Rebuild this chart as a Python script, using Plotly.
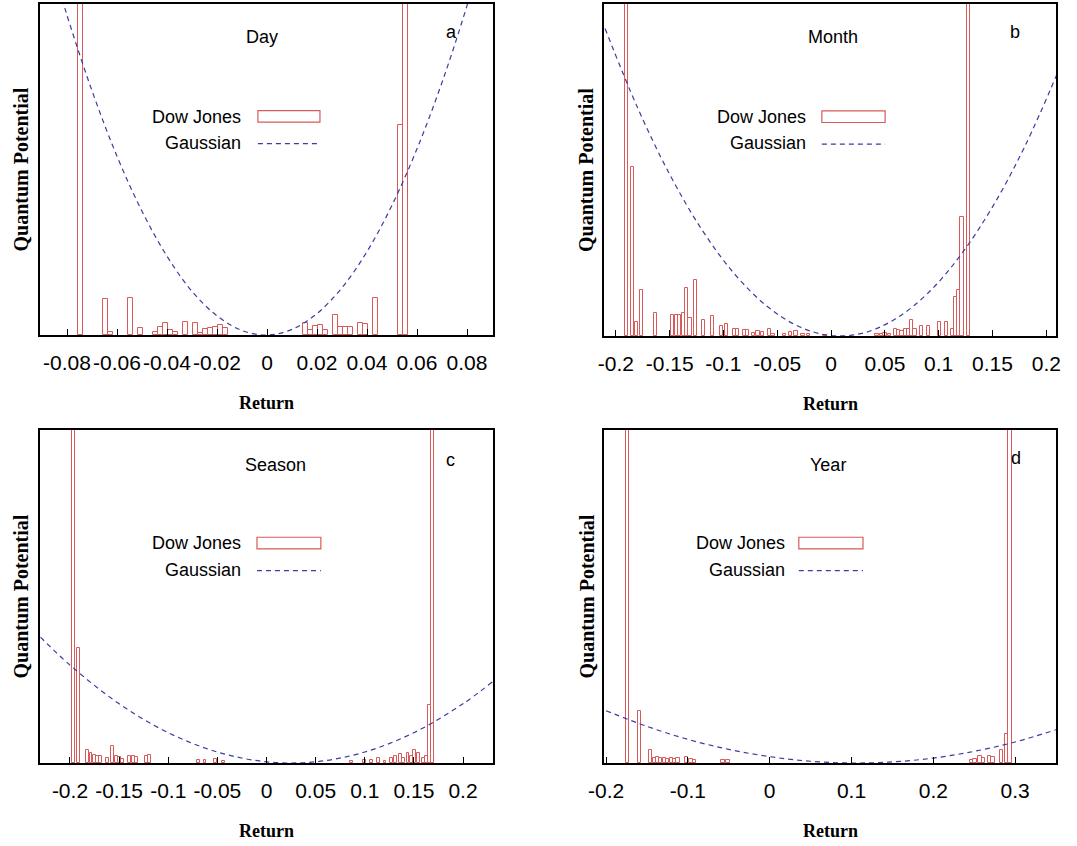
import plotly.graph_objects as go

# ---------------- data ----------------
panel_names = ["Day", "Month", "Season", "Year"]
panel_letters = ["a", "b", "c", "d"]

# Panel a (Day)
day_x = [-0.0746, -0.0646, -0.0626, -0.0546, -0.0506, -0.0446, -0.0426, -0.0406, -0.0386,
         -0.0366, -0.0326, -0.0286, -0.0266, -0.0246, -0.0226, -0.0206, -0.0186, -0.0166,
         0.0154, 0.0174, 0.0194, 0.0214, 0.0234, 0.0274, 0.0294, 0.0314, 0.0334, 0.0374,
         0.0394, 0.0434, 0.0534, 0.0554]
day_v = [1.5, 0.109, 0.010, 0.112, 0.022, 0.010, 0.025, 0.035, 0.015,
         0.010, 0.040, 0.035, 0.007, 0.017, 0.020, 0.023, 0.030, 0.020,
         0.035, 0.015, 0.027, 0.030, 0.015, 0.060, 0.025, 0.023, 0.023, 0.035,
         0.032, 0.112, 0.634, 1.5]
day_gx = [-0.09, -0.08, -0.07, -0.06, -0.05, -0.04, -0.03, -0.02, -0.01, 0.0,
          0.01, 0.02, 0.03, 0.04, 0.05, 0.06, 0.07, 0.08, 0.09]
day_gv = [1.224, 0.966, 0.738, 0.540, 0.374, 0.238, 0.132, 0.058, 0.0135, 0.0001,
          0.017, 0.065, 0.143, 0.252, 0.392, 0.5625, 0.763, 0.995, 1.257]

# Panel b (Month)
month_x = [-0.190, -0.1845, -0.181, -0.176, -0.163, -0.147, -0.1435, -0.1405, -0.1374, -0.134,
           -0.131, -0.126, -0.1186, -0.110, -0.102, -0.097, -0.090, -0.087, -0.0806, -0.0777,
           -0.072, -0.068, -0.064, -0.057, -0.054, -0.043, -0.038, -0.0326, -0.026, -0.021,
           -0.0056, 0.0427, 0.047, 0.050, 0.054, 0.0595, 0.0626, 0.0658, 0.069, 0.0718,
           0.075, 0.078, 0.0837, 0.0905, 0.101, 0.1076, 0.1125, 0.1155, 0.1186, 0.1217, 0.1275]
month_v = [1.5, 0.51, 0.042, 0.14, 0.068, 0.062, 0.062, 0.062, 0.068, 0.145,
           0.055, 0.17, 0.047, 0.059, 0.030, 0.035, 0.022, 0.022, 0.019, 0.017,
           0.009, 0.015, 0.012, 0.022, 0.007, 0.007, 0.012, 0.015, 0.007, 0.005,
           0.004, 0.005, 0.007, 0.009, 0.005, 0.022, 0.019, 0.015, 0.022, 0.022,
           0.049, 0.022, 0.029, 0.029, 0.042, 0.042, 0.022, 0.117, 0.14, 0.357, 1.5]
month_gx = [-0.21, -0.18, -0.15, -0.12, -0.09, -0.06, -0.03, 0.0, 0.03, 0.06, 0.09,
            0.12, 0.15, 0.18, 0.21]
month_gv = [0.926, 0.689, 0.487, 0.320, 0.188, 0.091, 0.0286, 0.0014, 0.009, 0.052, 0.129,
            0.242, 0.389, 0.571, 0.789]

# Panel c (Season)
season_x = [-0.196, -0.1915, -0.182, -0.1786, -0.175, -0.172, -0.1686, -0.162, -0.157, -0.153,
            -0.150, -0.147, -0.139, -0.1356, -0.132, -0.122, -0.1186, -0.069, -0.0626, -0.052,
            -0.044, 0.0867, 0.100, 0.107, 0.1138, 0.1206, 0.1274, 0.131, 0.136, 0.139,
            0.144, 0.148, 0.151, 0.1545, 0.1596, 0.163, 0.1654, 0.1685]
season_v = [1.5, 0.345, 0.040, 0.030, 0.025, 0.022, 0.020, 0.015, 0.050, 0.020,
            0.018, 0.012, 0.020, 0.020, 0.018, 0.020, 0.025, 0.010, 0.010, 0.012,
            0.005, 0.005, 0.010, 0.010, 0.015, 0.007, 0.015, 0.020, 0.027, 0.015,
            0.030, 0.022, 0.040, 0.030, 0.015, 0.020, 0.175, 1.5]
season_gx = [-0.23, -0.2, -0.15, -0.1, -0.05, 0.0, 0.05, 0.1, 0.15, 0.2, 0.23]
season_gv = [0.378, 0.294, 0.178, 0.091, 0.033, 0.0036, 0.0036, 0.033, 0.091, 0.178, 0.244]

# Panel d (Year)
year_x = [-0.174, -0.159, -0.1457, -0.141, -0.137, -0.133, -0.1285, -0.1245, -0.120, -0.116,
          -0.112, -0.102, -0.096, -0.092, -0.057, -0.051, 0.247, 0.251, 0.257, 0.261,
          0.269, 0.273, 0.283, 0.2897, 0.2938]
year_v = [1.5, 0.155, 0.038, 0.015, 0.017, 0.015, 0.015, 0.012, 0.015, 0.012,
          0.015, 0.018, 0.012, 0.010, 0.008, 0.008, 0.010, 0.012, 0.020, 0.015,
          0.022, 0.018, 0.038, 0.088, 1.5]
year_gx = [-0.2, -0.15, -0.1, -0.05, 0.0, 0.05, 0.1, 0.15, 0.2, 0.25, 0.3, 0.35]
year_gv = [0.157, 0.110, 0.071, 0.041, 0.019, 0.0053, 0.0, 0.0032, 0.0148, 0.035, 0.063, 0.100]

# tick labels
day_ticks = [-0.08, -0.06, -0.04, -0.02, 0.0, 0.02, 0.04, 0.06, 0.08]
day_ticktext = ["-0.08", "-0.06", "-0.04", "-0.02", "0", "0.02", "0.04", "0.06", "0.08"]
month_ticks = [-0.2, -0.15, -0.1, -0.05, 0.0, 0.05, 0.1, 0.15, 0.2]
month_ticktext = ["-0.2", "-0.15", "-0.1", "-0.05", "0", "0.05", "0.1", "0.15", "0.2"]
season_ticks = month_ticks
season_ticktext = month_ticktext
year_ticks = [-0.2, -0.1, 0.0, 0.1, 0.2, 0.3]
year_ticktext = ["-0.2", "-0.1", "0", "0.1", "0.2", "0.3"]

# ---------------- styling ----------------
W, H = 1077, 846
BAR_COLOR = "#d85a5a"
GAUSS_COLOR = "#3c3ca0"
SANS = "Liberation Sans, Arial, sans-serif"
SERIF = "Liberation Serif, Times New Roman, serif"

panels = [
    dict(bx=day_x, bv=day_v, bw=0.002, gx=day_gx, gv=day_gv, tv=day_ticks, tt=day_ticktext,
         xr=[-0.0908, 0.0904], px=(40, 493), py=(4, 335),
         leg=(0.448, 0.481, 0.618), title_pos=(0.49, 0.90), let_pos=(0.909, 0.915)),
    dict(bx=month_x, bv=month_v, bw=0.003, gx=month_gx, gv=month_gv, tv=month_ticks, tt=month_ticktext,
         xr=[-0.211, 0.209], px=(604, 1056), py=(4, 336),
         leg=(0.451, 0.482, 0.622), title_pos=(0.507, 0.90), let_pos=(0.909, 0.915)),
    dict(bx=season_x, bv=season_v, bw=0.003, gx=season_gx, gv=season_gv, tv=season_ticks, tt=season_ticktext,
         xr=[-0.2305, 0.2305], px=(40, 493), py=(430, 763),
         leg=(0.449, 0.479, 0.620), title_pos=(0.519, 0.895), let_pos=(0.907, 0.91)),
    dict(bx=year_x, bv=year_v, bw=0.004, gx=year_gx, gv=year_gv, tv=year_ticks, tt=year_ticktext,
         xr=[-0.2025, 0.35], px=(604, 1056), py=(430, 763),
         leg=(0.405, 0.431, 0.573), title_pos=(0.496, 0.895), let_pos=(0.912, 0.916)),
]

fig = go.Figure()
layout = dict(width=W, height=H, autosize=False, margin=dict(l=0, r=0, t=0, b=0, pad=0),
              paper_bgcolor="white", plot_bgcolor="white", showlegend=False, bargap=0,
              barmode="overlay")
annotations = []
shapes = []


def label(text, x, y, xref, yref, size, family=SANS, xanchor="center", angle=0):
    return dict(text=text, x=x, y=y, xref=xref, yref=yref, showarrow=False,
                xanchor=xanchor, yanchor="middle", textangle=angle,
                font=dict(family=family, size=size, color="black"))


for i, p in enumerate(panels):
    n = "" if i == 0 else str(i + 1)
    xa, ya = "x" + n, "y" + n
    fig.add_trace(go.Bar(x=p["bx"], y=p["bv"], width=p["bw"], xaxis=xa, yaxis=ya,
                         marker=dict(color="rgba(255,255,255,0)", line=dict(color=BAR_COLOR, width=1))))
    fig.add_trace(go.Scatter(x=p["gx"], y=p["gv"], mode="lines", xaxis=xa, yaxis=ya,
                             line=dict(color=GAUSS_COLOR, width=1.2, dash="5px,4px", shape="spline")))
    x0, x1 = p["px"]
    y0, y1 = p["py"]
    layout["xaxis" + n] = dict(domain=[x0 / W, x1 / W], range=p["xr"], anchor=ya,
                               tickvals=p["tv"], ticktext=p["tt"], ticks="inside", ticklen=6,
                               tickcolor="black", tickwidth=1.2, tickangle=0, automargin=False,
                               showline=True, linecolor="black", linewidth=1.5, mirror=True,
                               showgrid=False, zeroline=False, ticklabelstandoff=8,
                               tickfont=dict(family=SANS, size=21, color="black"))
    layout["yaxis" + n] = dict(domain=[1 - y1 / H, 1 - y0 / H], range=[0, 1], anchor=xa,
                               showticklabels=False, ticks="", showline=True, linecolor="black",
                               linewidth=1.5, mirror=True, showgrid=False, zeroline=False,
                               automargin=False)
    xd, yd = xa + " domain", ya + " domain"
    # panel title and letter
    annotations.append(label(panel_names[i], p["title_pos"][0], p["title_pos"][1], xd, yd, 18))
    annotations.append(label(panel_letters[i], p["let_pos"][0], p["let_pos"][1], xd, yd, 18))
    # legend
    tx, r0, r1 = p["leg"]
    annotations.append(label("Dow Jones", tx, 0.66, xd, yd, 18, xanchor="right"))
    annotations.append(label("Gaussian", tx, 0.58, xd, yd, 18, xanchor="right"))
    shapes.append(dict(type="rect", xref=xd, yref=yd, x0=r0, x1=r1, y0=0.643, y1=0.678,
                       line=dict(color=BAR_COLOR, width=1.2), fillcolor="rgba(255,255,255,0)"))
    shapes.append(dict(type="line", xref=xd, yref=yd, x0=r0, x1=r1, y0=0.578, y1=0.578,
                       line=dict(color=GAUSS_COLOR, width=1.2, dash="5px,4px")))
    # axis titles
    annotations.append(label("<b>Return</b>", (x0 + x1) / 2 / W, 1 - (y1 + 68) / H,
                             "paper", "paper", 18, family=SERIF))
    annotations.append(label("<b>Quantum Potential</b>", (x0 - 18 if x0 > 100 else 20) / W,
                             1 - (y0 + y1) / 2 / H, "paper", "paper", 20, family=SERIF, angle=-90))

layout["annotations"] = annotations
layout["shapes"] = shapes
fig.update_layout(**layout)
fig.write_html("out.html", config={"displayModeBar": False},
               post_script="document.body.style.margin='0px';")
